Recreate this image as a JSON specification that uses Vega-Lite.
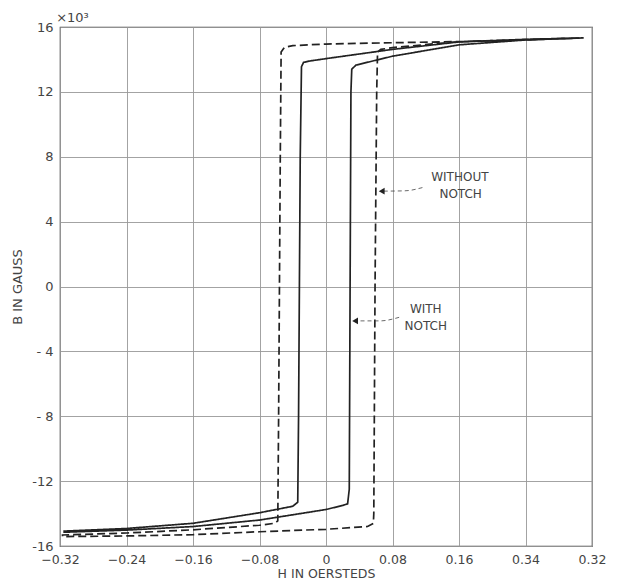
{
  "$schema": "https://vega.github.io/schema/vega-lite/v6.json",
  "width": 532,
  "height": 519,
  "autosize": "none",
  "padding": {"left": 60, "top": 27, "right": 29, "bottom": 38},
  "background": "white",
  "config": {
    "view": {"stroke": "#444", "strokeWidth": 1.2},
    "font": "DejaVu Sans",
    "axis": {
      "grid": true, "gridColor": "#999", "gridWidth": 0.9, "domain": false, "ticks": false,
      "labelFont": "DejaVu Sans", "labelFontSize": 13, "labelColor": "#444",
      "titleFont": "DejaVu Sans", "titleFontSize": 13, "titleFontWeight": "normal", "titleColor": "#444"
    }
  },
  "datasets": {
    "loops": [
      {"s": "with", "i": 1, "h": 0.305, "b": 15.32},
      {"s": "with", "i": 2, "h": 0.24, "b": 15.24},
      {"s": "with", "i": 3, "h": 0.16, "b": 15.08},
      {"s": "with", "i": 4, "h": 0.08, "b": 14.62},
      {"s": "with", "i": 5, "h": 0.0, "b": 14.05},
      {"s": "with", "i": 6, "h": -0.02, "b": 13.9},
      {"s": "with", "i": 7, "h": -0.027, "b": 13.82},
      {"s": "with", "i": 8, "h": -0.0295, "b": 13.55},
      {"s": "with", "i": 9, "h": -0.031, "b": 8},
      {"s": "with", "i": 10, "h": -0.032, "b": 0},
      {"s": "with", "i": 11, "h": -0.033, "b": -8},
      {"s": "with", "i": 12, "h": -0.034, "b": -13.3},
      {"s": "with", "i": 13, "h": -0.04, "b": -13.55},
      {"s": "with", "i": 14, "h": -0.08, "b": -13.95},
      {"s": "with", "i": 15, "h": -0.16, "b": -14.6},
      {"s": "with", "i": 16, "h": -0.24, "b": -14.92},
      {"s": "with", "i": 17, "h": -0.315, "b": -15.08},
      {"s": "with", "i": 18, "h": -0.315, "b": -15.15},
      {"s": "with", "i": 19, "h": -0.24, "b": -15.02},
      {"s": "with", "i": 20, "h": -0.16, "b": -14.8},
      {"s": "with", "i": 21, "h": -0.08, "b": -14.4},
      {"s": "with", "i": 22, "h": 0.0, "b": -13.75},
      {"s": "with", "i": 23, "h": 0.02, "b": -13.5},
      {"s": "with", "i": 24, "h": 0.026, "b": -13.4},
      {"s": "with", "i": 25, "h": 0.028, "b": -12.5},
      {"s": "with", "i": 26, "h": 0.029, "b": 0},
      {"s": "with", "i": 27, "h": 0.030, "b": 12},
      {"s": "with", "i": 28, "h": 0.031, "b": 13.4},
      {"s": "with", "i": 29, "h": 0.036, "b": 13.65},
      {"s": "with", "i": 30, "h": 0.08, "b": 14.2},
      {"s": "with", "i": 31, "h": 0.16, "b": 14.9},
      {"s": "with", "i": 32, "h": 0.24, "b": 15.2},
      {"s": "with", "i": 33, "h": 0.305, "b": 15.32},
      {"s": "without", "i": 1, "h": 0.31, "b": 15.33},
      {"s": "without", "i": 2, "h": 0.24, "b": 15.2},
      {"s": "without", "i": 3, "h": 0.16, "b": 15.1},
      {"s": "without", "i": 4, "h": 0.08, "b": 15.03},
      {"s": "without", "i": 5, "h": 0.0, "b": 14.95},
      {"s": "without", "i": 6, "h": -0.04, "b": 14.85},
      {"s": "without", "i": 7, "h": -0.05, "b": 14.75},
      {"s": "without", "i": 8, "h": -0.054, "b": 14.45},
      {"s": "without", "i": 9, "h": -0.055, "b": 8},
      {"s": "without", "i": 10, "h": -0.056, "b": 0},
      {"s": "without", "i": 11, "h": -0.057, "b": -8},
      {"s": "without", "i": 12, "h": -0.058, "b": -14.45},
      {"s": "without", "i": 13, "h": -0.062, "b": -14.6},
      {"s": "without", "i": 14, "h": -0.08, "b": -14.72},
      {"s": "without", "i": 15, "h": -0.16, "b": -15.0},
      {"s": "without", "i": 16, "h": -0.24, "b": -15.2},
      {"s": "without", "i": 17, "h": -0.317, "b": -15.32},
      {"s": "without", "i": 18, "h": -0.317, "b": -15.42},
      {"s": "without", "i": 19, "h": -0.24, "b": -15.38},
      {"s": "without", "i": 20, "h": -0.16, "b": -15.3},
      {"s": "without", "i": 21, "h": -0.08, "b": -15.12},
      {"s": "without", "i": 22, "h": 0.0, "b": -14.97},
      {"s": "without", "i": 23, "h": 0.05, "b": -14.8},
      {"s": "without", "i": 24, "h": 0.057, "b": -14.6},
      {"s": "without", "i": 25, "h": 0.0575, "b": -14},
      {"s": "without", "i": 26, "h": 0.059, "b": 0},
      {"s": "without", "i": 27, "h": 0.061, "b": 12},
      {"s": "without", "i": 28, "h": 0.062, "b": 14.45},
      {"s": "without", "i": 29, "h": 0.066, "b": 14.62},
      {"s": "without", "i": 30, "h": 0.08, "b": 14.73},
      {"s": "without", "i": 31, "h": 0.16, "b": 15.1},
      {"s": "without", "i": 32, "h": 0.24, "b": 15.22},
      {"s": "without", "i": 33, "h": 0.31, "b": 15.33}
    ],
    "leaders": [
      {"g": "a", "i": 1, "h": 0.116, "b": 6.1},
      {"g": "a", "i": 2, "h": 0.095, "b": 5.9},
      {"g": "a", "i": 3, "h": 0.068, "b": 5.88},
      {"g": "b", "i": 1, "h": 0.088, "b": -1.9},
      {"g": "b", "i": 2, "h": 0.065, "b": -2.12},
      {"g": "b", "i": 3, "h": 0.036, "b": -2.12}
    ],
    "heads": [
      {"h": 0.067, "b": 5.88},
      {"h": 0.035, "b": -2.12}
    ],
    "texts": [
      {"t": "WITHOUT", "h": 0.161, "b": 6.75},
      {"t": "NOTCH", "h": 0.162, "b": 5.7},
      {"t": "WITH", "h": 0.12, "b": -1.39},
      {"t": "NOTCH", "h": 0.12, "b": -2.43}
    ],
    "exp": [
      {"t": "×10³", "h": -0.305, "b": 16.55}
    ]
  },
  "layer": [
    {
      "data": {"name": "loops"},
      "mark": {"type": "line", "color": "#222", "strokeWidth": 1.7, "clip": false},
      "encoding": {
        "x": {"field": "h", "type": "quantitative",
          "scale": {"domain": [-0.32, 0.32], "nice": false, "zero": false},
          "axis": {"values": [-0.32, -0.24, -0.16, -0.08, 0, 0.08, 0.16, 0.24, 0.32],
            "labelExpr": "datum.value == 0 ? '0' : (abs(datum.value - 0.24) < 0.001 ? '0.34' : (datum.value < 0 ? '−' + format(abs(datum.value), '.2f') : format(datum.value, '.2f')))",
            "labelPadding": 7, "labelFontSize": 12.5, "title": "H  IN  OERSTEDS", "titleFontSize": 12.5, "titlePadding": 2, "labelFlush": false}},
        "y": {"field": "b", "type": "quantitative",
          "scale": {"domain": [-16, 16], "nice": false, "zero": false},
          "axis": {"values": [-16, -12, -8, -4, 0, 4, 8, 12, 16],
            "labelExpr": "datum.value == 0 ? '0' : (datum.value == -4 ? '- 4' : (datum.value == -8 ? '- 8' : (datum.value < 0 ? '-' + abs(datum.value) : '' + datum.value)))",
            "labelPadding": 7, "title": "B  IN  GAUSS", "titlePadding": 7}},
        "detail": {"field": "s"},
        "order": {"field": "i", "type": "quantitative"},
        "strokeDash": {"field": "s", "type": "nominal",
          "scale": {"domain": ["with", "without"], "range": [[1, 0], [8, 4]]}, "legend": null}
      }
    },
    {
      "data": {"name": "leaders"},
      "mark": {"type": "line", "color": "#444", "strokeWidth": 0.8, "strokeDash": [4, 3], "interpolate": "monotone"},
      "encoding": {
        "x": {"field": "h", "type": "quantitative"},
        "y": {"field": "b", "type": "quantitative"},
        "detail": {"field": "g"},
        "order": {"field": "i", "type": "quantitative"}
      }
    },
    {
      "data": {"name": "heads"},
      "mark": {"type": "point", "shape": "triangle-left", "filled": true, "color": "#222", "size": 45, "opacity": 1},
      "encoding": {
        "x": {"field": "h", "type": "quantitative"},
        "y": {"field": "b", "type": "quantitative"}
      }
    },
    {
      "data": {"name": "texts"},
      "mark": {"type": "text", "fontSize": 12, "color": "#444", "font": "DejaVu Sans"},
      "encoding": {
        "x": {"field": "h", "type": "quantitative"},
        "y": {"field": "b", "type": "quantitative"},
        "text": {"field": "t"}
      }
    },
    {
      "data": {"name": "exp"},
      "mark": {"type": "text", "fontSize": 13, "color": "#444", "font": "DejaVu Sans", "clip": false},
      "encoding": {
        "x": {"field": "h", "type": "quantitative"},
        "y": {"field": "b", "type": "quantitative"},
        "text": {"field": "t"}
      }
    }
  ]
}
